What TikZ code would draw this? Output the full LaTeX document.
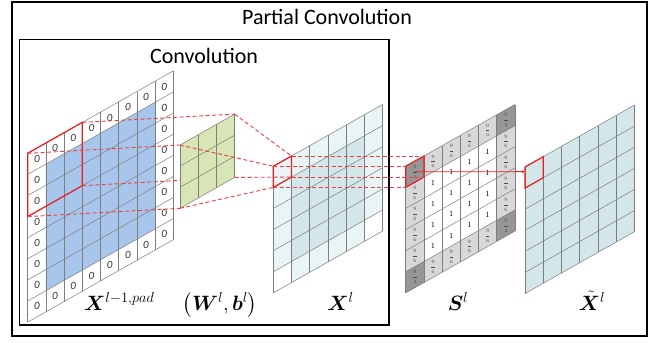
\documentclass[tikz,border=0pt]{standalone}
\usepackage{fontspec}
\setmainfont{Carlito}
\usepackage{amsmath,bm}
\usetikzlibrary{arrows.meta}
\DeclareMathSizes{20}{20}{15}{11}
\definecolor{pconvRed}{RGB}{235,30,35}
\definecolor{pconvGrid}{RGB}{125,125,125}
\definecolor{pconvBlue}{RGB}{168,198,236}
\definecolor{pconvGreen}{RGB}{216,229,180}
\definecolor{pconvCyan}{RGB}{233,244,245}
\definecolor{pconvTeal}{RGB}{211,230,233}
\definecolor{pconvDark}{RGB}{150,150,150}
\definecolor{pconvLight}{RGB}{216,216,216}

\begin{document}
\begin{tikzpicture}[x=1pt, y=-1pt,
    frame/.style={draw=black, line width=1.6pt},
    cell/.style={draw=pconvGrid, line width=0.5pt},
    window/.style={draw=pconvRed, line width=1.2pt},
    link/.style={draw=pconvRed!85, line width=0.9pt, dash pattern=on 4pt off 2.5pt},
    title/.style={font=\fontsize{22}{24}\selectfont},
    var/.style={font=\fontsize{20}{22}\selectfont, inner sep=0pt, anchor=base},
    zero/.style={font=\fontsize{11}{11}\selectfont\itshape, text=black!80, inner sep=0pt},
    one/.style={font=\fontsize{8.5}{8.5}\selectfont, inner sep=0pt},
    ratio/.style={font=\fontsize{5}{5}\selectfont, text=black!70, inner sep=0pt}
  ]
    \useasboundingbox (0,0) rectangle (654,343);
    \fill[white] (0,0) rectangle (654,343);

    % frames
    \draw[frame] (12,2) rectangle (647,336);
    \draw[frame] (19.5,39.5) rectangle (389,325);
    \node[title] (ptitle) at (327,17) {Partial Convolution};
    \node[title] (ctitle) at (204,56) {Convolution};

    % padded input
    \begin{scope}[shift={(27.7,153.3)}, x={(18.2pt,10.3pt)}, y={(0pt,-21.1pt)}]
      \fill[white] (0,0) -- (8,0) -- (8,8) -- (0,8) -- cycle;
      \fill[pconvBlue] (1,1) -- (7,1) -- (7,7) -- (1,7) -- cycle;
      \foreach \k in {0,...,8} {
        \draw[cell] (\k,0) -- (\k,8);
        \draw[cell] (0,\k) -- (8,\k);
      }
      \foreach \k in {0,...,7} {
        \node[zero] (zt\k) at (\k+.5,.5) {0};
        \node[zero] (zb\k) at (\k+.5,7.5) {0};
      }
      \foreach \k in {1,...,6} {
        \node[zero] (zl\k) at (.5,\k+.5) {0};
        \node[zero] (zr\k) at (7.5,\k+.5) {0};
      }
      \draw[window] (0,0) -- (3,0) -- (3,3) -- (0,3) -- cycle;
      \coordinate (padTL) at (0,0);
      \coordinate (padTR) at (3,0);
      \coordinate (padBR) at (3,3);
      \coordinate (padBL) at (0,3);
    \end{scope}

    % kernel
    \begin{scope}[shift={(180,145)}, x={(18.2pt,10.3pt)}, y={(0pt,-21.1pt)}]
      \coordinate (kerTL) at (0,0);
      \coordinate (kerTR) at (3,0);
      \coordinate (kerBR) at (3,3);
      \coordinate (kerBL) at (0,3);
    \end{scope}
    \draw[link] (padBR) -- (kerBR);
    \begin{scope}[shift={(180,145)}, x={(18.2pt,10.3pt)}, y={(0pt,-21.1pt)}]
      \fill[pconvGreen] (0,0) -- (3,0) -- (3,3) -- (0,3) -- cycle;
      \foreach \k in {0,...,3} {
        \draw[cell] (\k,0) -- (\k,3);
        \draw[cell] (0,\k) -- (3,\k);
      }
    \end{scope}
    \draw[link] (padTL) -- (kerTL);
    \draw[link] (padTR) -- (kerTR);
    \draw[link] (padBL) -- (kerBL);

    % convolution output
    \begin{scope}[shift={(273.3,166.3)}, x={(18.2pt,10.3pt)}, y={(0pt,-21.1pt)}]
      \fill[pconvCyan] (0,0) -- (6,0) -- (6,6) -- (0,6) -- cycle;
      \fill[pconvTeal] (1,1) -- (5,1) -- (5,5) -- (1,5) -- cycle;
      \fill[white] (0,5) -- (1,5) -- (1,6) -- (0,6) -- cycle;
      \fill[white] (5,5) -- (6,5) -- (6,6) -- (5,6) -- cycle;
      \foreach \k in {0,...,6} {
        \draw[cell] (\k,0) -- (\k,6);
        \draw[cell] (0,\k) -- (6,\k);
      }
      \draw[window] (0,0) -- (1,0) -- (1,1) -- (0,1) -- cycle;
      \coordinate (xTL) at (0,0);
      \coordinate (xTR) at (1,0);
      \coordinate (xBR) at (1,1);
      \coordinate (xBL) at (0,1);
    \end{scope}
    \draw[link] (kerTL) -- (xTL);
    \draw[link] (kerTR) -- (xTR);
    \draw[link] (kerBR) -- (xBR);
    \draw[link] (kerBL) -- (xBL);

    % scaling factors
    \begin{scope}[shift={(405.7,166.3)}, x={(18.2pt,10.3pt)}, y={(0pt,-21.1pt)}]
      \fill[pconvLight] (0,0) -- (6,0) -- (6,6) -- (0,6) -- cycle;
      \fill[white] (1,1) -- (5,1) -- (5,5) -- (1,5) -- cycle;
      \foreach \i/\j in {0/0,5/0,0/5,5/5} {
        \fill[pconvDark] (\i,\j) -- ++(1,0) -- ++(0,1) -- ++(-1,0) -- cycle;
        \node[ratio] (c\i\j) at (\i+.5,\j+.5) {$\dfrac{9}{4}$};
      }
      \foreach \k in {1,...,4} {
        \node[ratio] (et\k) at (\k+.5,.5) {$\dfrac{9}{6}$};
        \node[ratio] (eb\k) at (\k+.5,5.5) {$\dfrac{9}{6}$};
        \node[ratio] (el\k) at (.5,\k+.5) {$\dfrac{9}{6}$};
        \node[ratio] (er\k) at (5.5,\k+.5) {$\dfrac{9}{6}$};
        \foreach \m in {1,...,4}
          \node[one] (o\k\m) at (\k+.5,\m+.5) {$1$};
      }
      \foreach \k in {0,...,6} {
        \draw[cell] (\k,0) -- (\k,6);
        \draw[cell] (0,\k) -- (6,\k);
      }
      \draw[window] (0,0) -- (1,0) -- (1,1) -- (0,1) -- cycle;
      \coordinate (sTL) at (0,0);
      \coordinate (sTR) at (1,0);
      \coordinate (sBR) at (1,1);
      \coordinate (sBL) at (0,1);
      \coordinate (sC) at (.5,.5);
    \end{scope}
    \draw[link] (xTL) -- (sTL);
    \draw[link] (xTR) -- (sTR);
    \draw[link] (xBR) -- (sBR);
    \draw[link] (xBL) -- (sBL);

    % partial convolution output
    \begin{scope}[shift={(525,167)}, x={(18.2pt,10.3pt)}, y={(0pt,-21.1pt)}]
      \fill[pconvTeal] (0,0) -- (6,0) -- (6,6) -- (0,6) -- cycle;
      \foreach \k in {0,...,6} {
        \draw[cell] (\k,0) -- (\k,6);
        \draw[cell] (0,\k) -- (6,\k);
      }
      \draw[window] (0,0) -- (1,0) -- (1,1) -- (0,1) -- cycle;
      \coordinate (xtL) at (0,.22);
    \end{scope}
    \draw[pconvRed, line width=0.8pt, -{Latex[length=3pt,width=3pt]}] (sC) -- (xtL);

    % labels
    \node[var, anchor=base west] (xpad) at (84,310) {$\bm{X}^{l-1,pad}$};
    \node[var] (wb) at (220,310) {$\bigl(\bm{W}^{l},\bm{b}^{l}\bigr)$};
    \node[var] (xl) at (340.5,310) {$\bm{X}^{l}$};
    \node[var] (sl) at (458,310) {$\bm{S}^{l}$};
    \node[var] (xt) at (592,310) {$\tilde{\bm{X}}^{l}$};
  \end{tikzpicture}
\end{document}
